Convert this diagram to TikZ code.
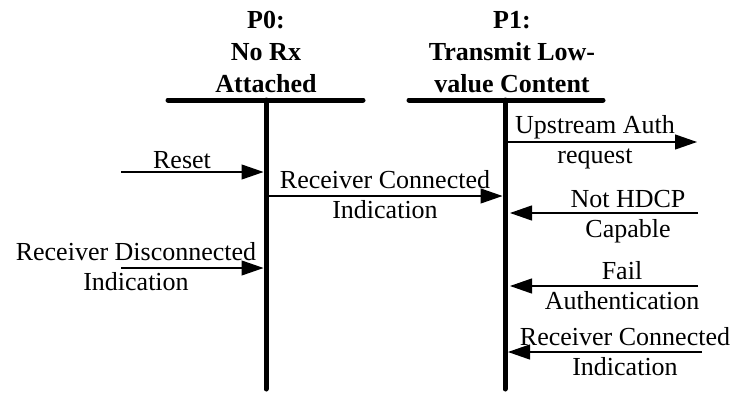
\documentclass[tikz,border=0pt]{standalone}
\usepackage{fontspec}
\setmainfont{Liberation Serif}
\usepackage{tikz}
\usetikzlibrary{arrows.meta, positioning}
\tikzstyle{state}=[align=center, inner sep=0pt, font=\fontsize{26}{32}\selectfont\bfseries]
\tikzstyle{bar}=[line width=5pt, line cap=round]
\tikzstyle{lifeline}=[line width=5pt, line cap=round]
\tikzstyle{msg}=[line width=1.2pt, -{Triangle[length=22pt,width=15pt]}]
\tikzstyle{msglabel}=[align=center, inner sep=0pt, anchor=base, font=\fontsize{26}{30}\selectfont]

\begin{document}
\begin{tikzpicture}[x=1pt, y=1pt]
    \useasboundingbox (0,0) rectangle (736,392);

    % states
    \node[state, anchor=base] (p0) at (266,300) {P0:\\No Rx\\Attached};
    \node[state, anchor=base] (p1) at (512,300) {P1:\\Transmit Low-\\value Content};

    \coordinate (p0l) at (168,292); \coordinate (p0r) at (363,292);
    \coordinate (p1l) at (409,292); \coordinate (p1r) at (603,292);
    \coordinate (p0top) at (266,292); \coordinate (p0bot) at (266,3);
    \coordinate (p1top) at (505,292); \coordinate (p1bot) at (505,3);
    \draw[bar] (p0l) -- (p0r);
    \draw[bar] (p1l) -- (p1r);
    \draw[lifeline] (p0top) -- (p0bot);
    \draw[lifeline] (p1top) -- (p1bot);

    % transitions into P0
    \coordinate (rst) at (121,220); \coordinate (rst0) at (263.5,220);
    \draw[msg] (rst) -- (rst0);
    \node[msglabel] (lrst) at (182,224) {Reset};
    \coordinate (rdc) at (121,124); \coordinate (rdc0) at (263.5,124);
    \draw[msg] (rdc) -- (rdc0);
    \node[msglabel] (lrdc) at (136,102) {Receiver Disconnected\\Indication};

    % P0 to P1
    \coordinate (rc0) at (268,196); \coordinate (rc1) at (502.5,196);
    \draw[msg] (rc0) -- (rc1);
    \node[msglabel] (lrc) at (385,174) {Receiver Connected\\Indication};

    % transitions at P1
    \coordinate (ua1) at (507,250); \coordinate (ua) at (697,250);
    \draw[msg] (ua1) -- (ua);
    \node[msglabel] (lua) at (595,229) {Upstream Auth\\request};
    \coordinate (nh) at (698,179); \coordinate (nh1) at (510,179);
    \draw[msg] (nh) -- (nh1);
    \node[msglabel] (lnh) at (628,155) {Not HDCP\\Capable};
    \coordinate (fa) at (698,106); \coordinate (fa1) at (510,106);
    \draw[msg] (fa) -- (fa1);
    \node[msglabel] (lfa) at (622,83) {Fail\\Authentication};
    \coordinate (rcx) at (702,40); \coordinate (rcx1) at (508,40);
    \draw[msg] (rcx) -- (rcx1);
    \node[msglabel] (lrcx) at (625,17) {Receiver Connected\\Indication};
\end{tikzpicture}
\end{document}
